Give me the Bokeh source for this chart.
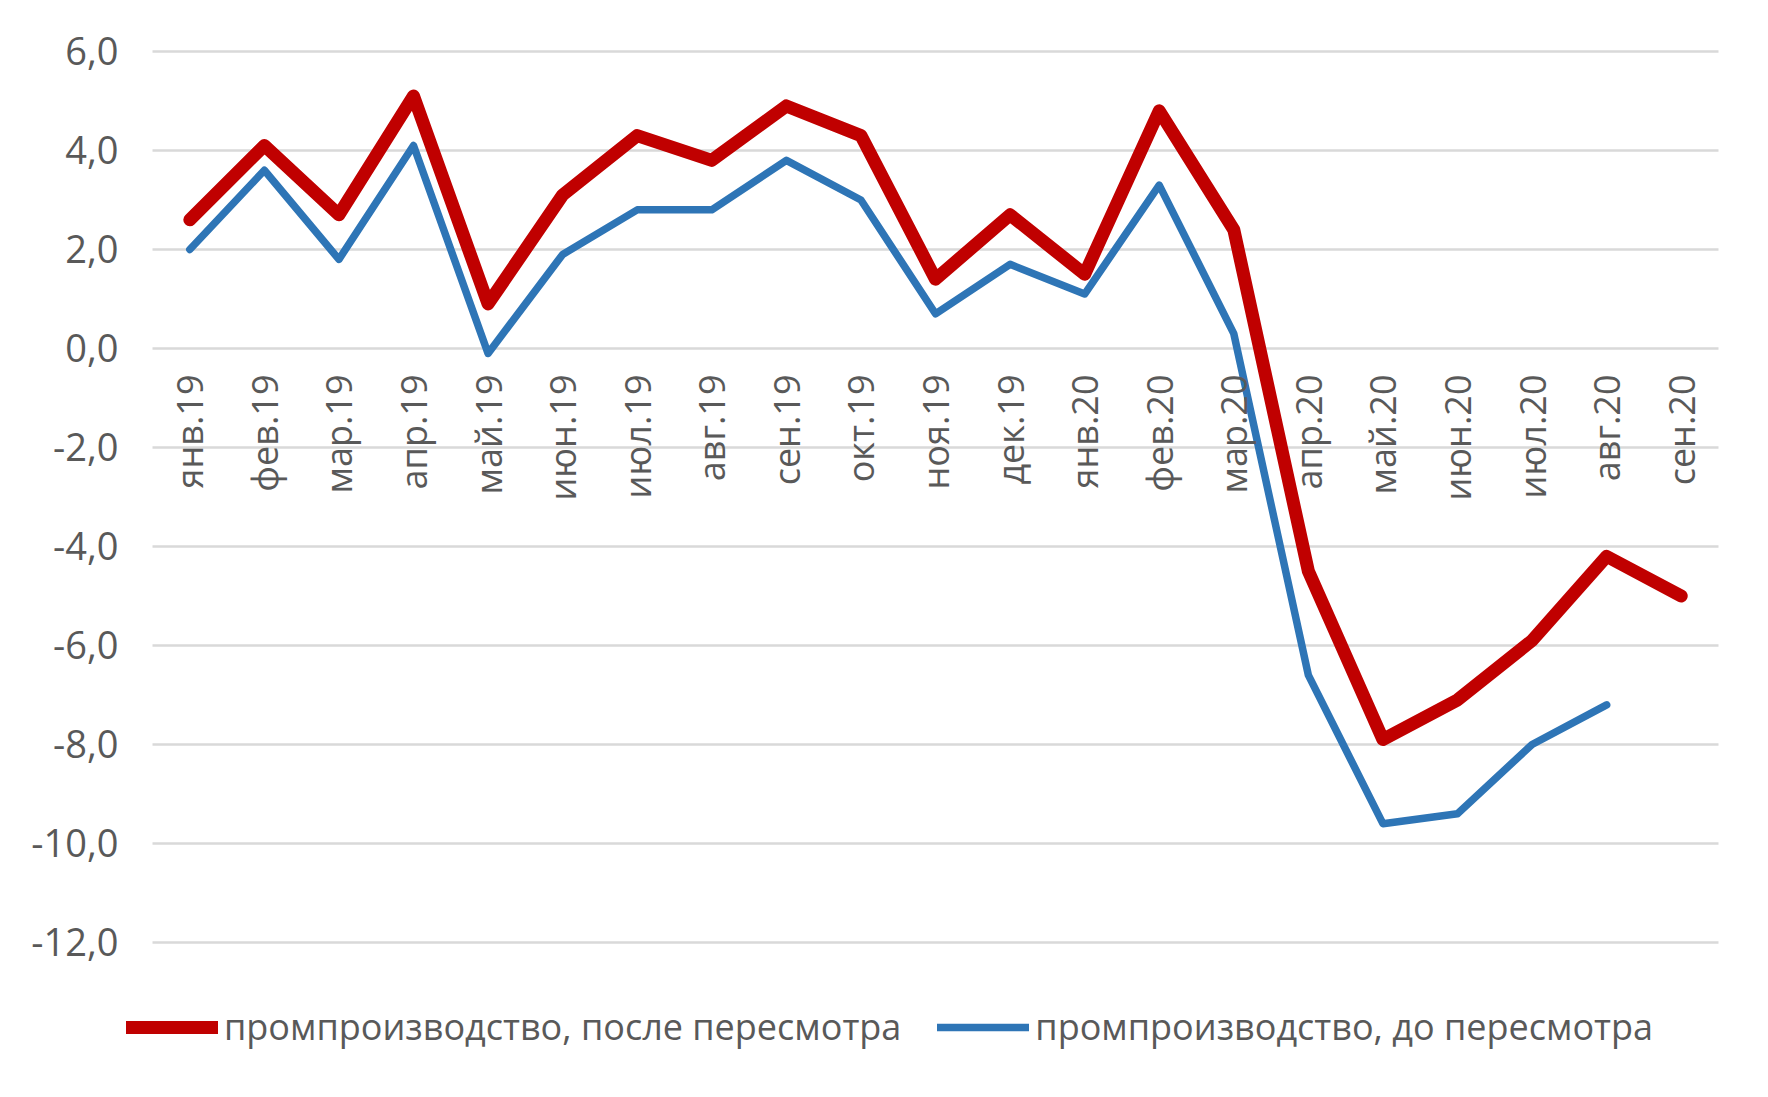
import math
import numpy as np
from bokeh.plotting import figure
from bokeh.models import Range1d, ColumnDataSource, Legend, LegendItem
from bokeh.core.properties import value
from bokeh.embed import file_html
from bokeh.resources import INLINE

months = ["янв.19", "фев.19", "мар.19", "апр.19", "май.19", "июн.19", "июл.19",
          "авг.19", "сен.19", "окт.19", "ноя.19", "дек.19", "янв.20", "фев.20",
          "мар.20", "апр.20", "май.20", "июн.20", "июл.20", "авг.20", "сен.20"]

after_revision = [2.6, 4.1, 2.7, 5.1, 0.9, 3.1, 4.3, 3.8, 4.9, 4.3, 1.4, 2.7, 1.5, 4.8,
                  2.4, -4.5, -7.9, -7.1, -5.9, -4.2, -5.0]
before_revision = [2.0, 3.6, 1.8, 4.1, -0.1, 1.9, 2.8, 2.8, 3.8, 3.0, 0.7, 1.7, 1.1, 3.3,
                   0.3, -6.6, -9.6, -9.4, -8.0, -7.2, np.nan]

y_ticks = [-12, -10, -8, -6, -4, -2, 0, 2, 4, 6]
y_tick_labels = [f"{t:.1f}".replace(".", ",") for t in y_ticks]

label_after = "промпроизводство, после пересмотра"
label_before = "промпроизводство, до пересмотра"

FONT = "Open Sans"
TXT = "#595959"
RED = "#C00000"
BLUE = "#2E75B6"

# page geometry (pixels)
W, H = 1752, 1081
PLOT_LEFT, PLOT_RIGHT = 152, 1718       # where the category band starts / ends
PLOT_TOP_VAL, PLOT_TOP = 6.06, 48       # value shown at top edge of plot band
PX_PER_UNIT = 49.5

n = len(months)
cell = (PLOT_RIGHT - PLOT_LEFT) / n
x_start = -0.5 - PLOT_LEFT / cell
x_end = (n - 0.5) + (W - PLOT_RIGHT) / cell
y_end = PLOT_TOP_VAL + PLOT_TOP / PX_PER_UNIT
y_start = PLOT_TOP_VAL - (H - PLOT_TOP) / PX_PER_UNIT

p = figure(width=W, height=H, output_backend="svg", toolbar_location=None,
           x_range=Range1d(x_start, x_end), y_range=Range1d(y_start, y_end),
           min_border=0)
p.outline_line_color = None
p.background_fill_color = "white"
p.border_fill_color = "white"
p.grid.visible = False
p.axis.visible = False

xs = list(range(n))
src = ColumnDataSource(dict(x=xs, m=months, a=after_revision, b=before_revision,
                            z=[0] * n))
grid = ColumnDataSource(dict(y=y_ticks, lab=y_tick_labels,
                             x0=[-0.5] * len(y_ticks), x1=[n - 0.5] * len(y_ticks)))

# horizontal gridlines
p.segment(x0="x0", x1="x1", y0="y", y1="y", source=grid,
          line_color="#D9D9D9", line_width=2.5)

# y tick labels
p.text(x="x0", y="y", text="lab", source=grid, x_offset=-34,
       text_align="right", text_baseline="middle",
       text_font=value(FONT), text_font_size="38px", text_color=TXT)

r_after = p.line("x", "a", source=src, line_color=RED, line_width=13,
                 line_join="round", line_cap="round")
r_before = p.line("x", "b", source=src, line_color=BLUE, line_width=7.5,
                  line_join="round", line_cap="round")

# category labels, rotated, hanging below the zero line
p.text(x="x", y="z", text="m", source=src, angle=math.pi / 2,
       text_align="right", text_baseline="middle", y_offset=26,
       text_font=value(FONT), text_font_size="36px", text_color=TXT)

legend = Legend(items=[LegendItem(label=label_after, renderers=[r_after]),
                       LegendItem(label=label_before, renderers=[r_before])],
                orientation="horizontal", location=(126, 30),
                glyph_width=92, glyph_height=40, label_height=40,
                label_standoff=6, spacing=36, padding=0, margin=0,
                border_line_color=None, background_fill_alpha=0,
                label_text_font=FONT, label_text_font_size="36px",
                label_text_color=TXT)
p.add_layout(legend, "center")

open("out.html", "w").write(file_html(p, INLINE))
